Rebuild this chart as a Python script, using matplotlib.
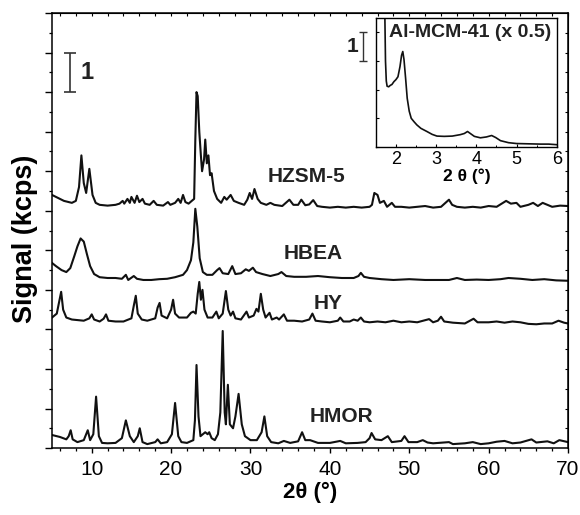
"""
XRD patterns of the zeolites (HZSM-5, HBEA, HY, HMOR) with a low-angle
inset for Al-MCM-41. Saves out.png.
"""
import numpy as np
import matplotlib
matplotlib.use("Agg")
import matplotlib.pyplot as plt

plt.rcParams["font.family"] = ["Liberation Sans", "DejaVu Sans"]

# ---- traced patterns (2theta in deg, signal in kcps, offsets included) ---- #
hzsm5_x = [5, 5.7, 6.5, 7.5, 8.0, 8.4, 8.7, 9.0, 9.3, 9.7, 10.1, 10.5, 11, 12,
           13, 13.5, 13.9, 14.1, 14.5, 14.8, 15.0, 15.4, 15.7, 16.0, 16.4,
           16.7, 17.3, 17.8, 18.2, 19, 19.6, 19.9, 20.5, 20.9, 21.2, 21.5,
           21.8, 22.2, 22.6, 22.9, 23.05, 23.2, 23.35, 23.55, 23.75, 23.9,
           24.15, 24.3, 24.5, 24.7, 24.9, 25.1, 25.4, 25.8, 26.3, 26.7, 27.0,
           27.5, 27.9, 28.5, 29.2, 29.6, 29.9, 30.2, 30.5, 30.9, 31.3, 32,
           32.5, 33, 34, 34.9, 35.4, 36.0, 36.4, 36.9, 37.4, 37.9, 38.4, 39,
           40, 41, 42, 43, 44, 45, 45.3, 45.6, 46.0, 46.3, 46.8, 47.2, 47.8,
           48.2, 49, 50, 51, 52, 53, 54, 55.0, 55.4, 56, 57, 58, 59, 60, 61,
           61.8, 62.2, 62.8, 63.5, 64, 65, 65.6, 66.2, 66.8, 67.4, 68, 69, 70]
hzsm5_y = [6.4, 6.33, 6.25, 6.2, 6.25, 6.6, 7.4, 6.7, 6.45, 7.06, 6.4, 6.2,
           6.15, 6.13, 6.15, 6.18, 6.25, 6.18, 6.3, 6.2, 6.35, 6.2, 6.38, 6.22,
           6.3, 6.18, 6.15, 6.25, 6.15, 6.13, 6.22, 6.15, 6.2, 6.3, 6.2, 6.4,
           6.22, 6.18, 6.25, 6.3, 7.8, 9.0, 8.9, 8.0, 7.4, 7.0, 7.3, 7.8, 7.2,
           7.4, 6.9, 6.95, 6.5, 6.3, 6.2, 6.35, 6.28, 6.4, 6.25, 6.2, 6.15,
           6.28, 6.45, 6.3, 6.55, 6.3, 6.2, 6.15, 6.2, 6.15, 6.12, 6.28, 6.15,
           6.15, 6.28, 6.14, 6.16, 6.27, 6.12, 6.1, 6.08, 6.1, 6.08, 6.1,
           6.08, 6.1, 6.15, 6.45, 6.4, 6.2, 6.25, 6.1, 6.2, 6.1, 6.1, 6.08,
           6.1, 6.12, 6.08, 6.1, 6.28, 6.15, 6.1, 6.08, 6.1, 6.08, 6.12, 6.1,
           6.2, 6.25, 6.18, 6.2, 6.1, 6.15, 6.2, 6.12, 6.2, 6.15, 6.1, 6.13,
           6.12]

hbea_x = [5, 5.5, 6.2, 6.8, 7.3, 7.8, 8.2, 8.6, 9.0, 9.4, 9.8, 10.3, 11, 12,
          13, 13.8, 14.3, 14.6, 15.3, 15.7, 16.5, 17.5, 18.5, 19.5, 20.5,
          21.5, 22.0, 22.5, 22.8, 23.05, 23.3, 23.6, 24.0, 24.5, 25.2, 25.8,
          26.1, 26.5, 27.2, 27.7, 28.1, 28.8, 29.4, 29.8, 30.3, 30.7, 31.5,
          32.5, 33.5, 33.9, 34.5, 35.5, 37, 38.5, 40, 41.5, 43.0, 43.6, 43.9,
          44.3, 45, 46.5, 48, 50, 52, 53.5, 55, 56, 57, 58.5, 60, 61.5, 62.5,
          64, 65.5, 67, 68.5, 70]
hbea_y = [4.68, 4.6, 4.5, 4.45, 4.55, 4.85, 5.1, 5.3, 5.22, 4.9, 4.6, 4.4,
          4.32, 4.3, 4.3, 4.28, 4.38, 4.25, 4.35, 4.28, 4.25, 4.25, 4.27,
          4.28, 4.32, 4.38, 4.5, 4.75, 5.2, 6.05, 5.6, 4.8, 4.45, 4.38, 4.38,
          4.5, 4.55, 4.42, 4.4, 4.6, 4.4, 4.42, 4.52, 4.48, 4.56, 4.45, 4.4,
          4.35, 4.4, 4.45, 4.35, 4.33, 4.33, 4.35, 4.32, 4.3, 4.3, 4.35, 4.43,
          4.33, 4.3, 4.27, 4.25, 4.27, 4.25, 4.25, 4.25, 4.3, 4.25, 4.26,
          4.25, 4.27, 4.3, 4.28, 4.25, 4.27, 4.24, 4.23]

hy_x = [5, 5.6, 5.9, 6.15, 6.4, 6.8, 7.5, 9, 9.7, 10, 10.3, 11, 11.5, 11.8,
        12.1, 13, 14, 15, 15.3, 15.55, 15.8, 16.3, 17, 18, 18.3, 18.55, 18.8,
        19.5, 20.0, 20.25, 20.5, 21, 22, 22.5, 22.8, 23.1, 23.35, 23.55,
        23.75, 23.95, 24.2, 24.6, 25.2, 25.7, 26.0, 26.5, 26.9, 27.2, 27.5,
        27.8, 28.1, 28.8, 29.5, 29.8, 30.4, 30.75, 31.0, 31.3, 31.6, 31.9,
        32.4, 32.7, 33.3, 33.6, 34.2, 34.6, 35.5, 36.5, 37.4, 37.8, 38.2, 39,
        40, 41, 41.3, 41.7, 42.5, 43, 43.5, 43.9, 44.3, 45, 46, 47, 48, 49,
        50, 51, 52.5, 53, 53.6, 54, 54.4, 55.5, 57, 58.1, 58.6, 60, 61, 62,
        63, 64, 65, 66, 67, 68, 68.8, 69.5, 70]
hy_y = [3.3, 3.4, 3.7, 3.95, 3.5, 3.3, 3.25, 3.22, 3.28, 3.38, 3.25, 3.2,
        3.27, 3.38, 3.22, 3.2, 3.2, 3.28, 3.6, 3.85, 3.4, 3.25, 3.22, 3.28,
        3.55, 3.67, 3.35, 3.28, 3.5, 3.75, 3.4, 3.3, 3.3, 3.42, 3.45, 3.4,
        3.9, 4.2, 3.75, 4.0, 3.5, 3.3, 3.3, 3.45, 3.28, 3.4, 3.97, 3.5, 3.35,
        3.45, 3.28, 3.25, 3.45, 3.3, 3.35, 3.52, 3.45, 3.9, 3.5, 3.3, 3.42,
        3.25, 3.3, 3.25, 3.38, 3.22, 3.22, 3.2, 3.25, 3.4, 3.22, 3.2, 3.18,
        3.22, 3.3, 3.2, 3.2, 3.25, 3.22, 3.3, 3.2, 3.18, 3.2, 3.18, 3.22,
        3.18, 3.2, 3.18, 3.26, 3.18, 3.22, 3.32, 3.2, 3.17, 3.15, 3.27, 3.18,
        3.18, 3.2, 3.17, 3.2, 3.18, 3.14, 3.13, 3.15, 3.15, 3.22, 3.17, 3.15]

hmor_x = [5, 6, 6.8, 7.1, 7.35, 7.6, 8.2, 9.0, 9.5, 9.8, 10.2, 10.55, 10.9,
          11.3, 12, 13, 13.8, 14.3, 14.8, 15.3, 15.8, 16.05, 16.4, 17, 18,
          18.3, 18.7, 19.5, 20.1, 20.5, 20.9, 21.3, 22, 22.8, 23.0, 23.2,
          23.45, 23.7, 24.0, 24.3, 24.6, 24.8, 25.1, 25.5, 25.9, 26.2, 26.5,
          26.75, 26.9, 27.15, 27.4, 27.8, 28.1, 28.5, 28.9, 29.3, 30, 30.8,
          31.4, 31.75, 32.1, 32.6, 33.5, 34.2, 35, 36, 36.5, 36.9, 37.5, 38.5,
          40, 41.3, 42, 43.5, 44.5, 45.0, 45.25, 45.7, 46.5, 47.3, 47.8, 49,
          49.4, 49.9, 51, 51.7, 52.3, 53, 55, 55.5, 57, 58, 59, 60, 61, 62,
          63, 64, 65.4, 66, 67.4, 68.2, 68.9, 70]
hmor_y = [0.33, 0.28, 0.22, 0.3, 0.45, 0.22, 0.15, 0.2, 0.45, 0.2, 0.35, 1.3,
          0.3, 0.13, 0.12, 0.13, 0.25, 0.7, 0.3, 0.15, 0.3, 0.5, 0.15, 0.1,
          0.15, 0.22, 0.12, 0.15, 0.35, 1.14, 0.3, 0.15, 0.13, 0.2, 0.7, 2.1,
          0.8, 0.3, 0.35, 0.4, 0.35, 0.4, 0.25, 0.2, 0.35, 0.9, 2.96, 0.9,
          0.6, 1.6, 0.6, 0.5, 0.8, 1.37, 0.6, 0.3, 0.2, 0.2, 0.4, 0.8, 0.3,
          0.15, 0.12, 0.18, 0.13, 0.17, 0.4, 0.2, 0.2, 0.13, 0.13, 0.18, 0.12,
          0.13, 0.15, 0.25, 0.38, 0.22, 0.2, 0.3, 0.15, 0.18, 0.3, 0.15, 0.15,
          0.2, 0.14, 0.12, 0.15, 0.1, 0.12, 0.15, 0.1, 0.12, 0.16, 0.18, 0.12,
          0.14, 0.22, 0.14, 0.17, 0.12, 0.2, 0.15]

mcm41_x = [1.72, 1.74, 1.76, 1.78, 1.82, 1.86, 1.9, 1.95, 2.0, 2.05, 2.1,
           2.14, 2.17, 2.2, 2.24, 2.28, 2.33, 2.38, 2.45, 2.52, 2.62, 2.77,
           2.9, 3.02, 3.2, 3.4, 3.6, 3.7, 3.78, 3.84, 3.95, 4.1, 4.25, 4.38,
           4.48, 4.6, 4.8, 5.0, 5.3, 5.6, 5.8, 6.0]
mcm41_y = [5.0, 3.0, 2.3, 2.12, 2.1, 2.15, 2.18, 2.28, 2.35, 2.45, 2.8, 3.2,
           3.33, 3.05, 2.4, 1.7, 1.25, 1.0, 0.88, 0.77, 0.65, 0.54, 0.44,
           0.38, 0.37, 0.38, 0.43, 0.47, 0.54, 0.48, 0.37, 0.32, 0.35, 0.4,
           0.33, 0.22, 0.15, 0.12, 0.11, 0.1, 0.1, 0.08]

patterns = [("HZSM-5", hzsm5_x, hzsm5_y, 32.1, 6.87),
            ("HBEA", hbea_x, hbea_y, 34.2, 4.92),
            ("HY", hy_x, hy_y, 38.0, 3.66),
            ("HMOR", hmor_x, hmor_y, 37.5, 0.80)]

SCALE_BAR = 1.0          # kcps
INSET_LABEL = "Al-MCM-41 (x 0.5)"

# ---- figure --------------------------------------------------------------- #
fig = plt.figure(figsize=(5.8, 5.15), dpi=100)
ax = fig.add_axes([0.0897, 0.130, 0.8897, 0.8447])

for name, xs, ys, lx, ly in patterns:
    ax.plot(xs, ys, color="#111111", lw=1.5)
    ax.text(lx, ly, name, fontsize=15, fontweight="bold", va="center",
            color="#222222")

ax.set_xlim(5, 70)
ax.set_ylim(0, 11)
ax.set_xticks(np.arange(10, 71, 10))
ax.set_xticks(np.arange(6, 70, 2), minor=True)
ax.set_yticks(np.arange(0, 11.1, 1))
ax.set_yticks(np.arange(0.5, 11, 1), minor=True)
ax.set_yticklabels([])
ax.tick_params(axis="x", which="major", direction="out", length=3.5,
               width=1.0, labelsize=15, pad=5)
ax.tick_params(axis="x", which="minor", direction="out", length=2.5, width=0.9)
ax.tick_params(axis="y", which="major", direction="out", length=5, width=1.0)
ax.tick_params(axis="y", which="minor", direction="out", length=2.5, width=0.9)
for s in ax.spines.values():
    s.set_linewidth(1.1)

# mirrored short inward ticks on top and right
top = ax.secondary_xaxis("top")
top.set_xticks(np.arange(6, 71, 2))
top.tick_params(direction="in", length=2, width=0.8, labeltop=False)
right = ax.secondary_yaxis("right")
right.set_yticks(np.arange(0.5, 11, 0.5))
right.tick_params(direction="in", length=2, width=0.8, labelright=False)

ax.set_xlabel("2θ (°)", fontsize=16, fontweight="bold", labelpad=2)
ax.set_ylabel("Signal (kcps)", fontsize=19.5, fontweight="bold")
ax.yaxis.set_label_coords(-0.028, 0.48)

# scale bar
ax.errorbar([7.3], [9.0 + SCALE_BAR / 2], yerr=SCALE_BAR / 2, color="#333333",
            lw=1.2, capsize=4.3, capthick=1.2)
ax.text(8.6, 9.5, "1", fontsize=17, fontweight="bold", va="center",
        color="#222222")

# ---- inset ---------------------------------------------------------------- #
ins = fig.add_axes([0.648, 0.7146, 0.312, 0.2505])
ins.plot(mcm41_x, mcm41_y, color="#111111", lw=1.2)
ins.set_xlim(1.5, 6)
ins.set_ylim(0, 4.5)
ins.set_xticks(np.arange(2, 6.1, 1))
ins.set_xticks(np.arange(1.5, 6, 0.5), minor=True)
ins.set_yticks(np.arange(0, 4.1, 1))
ins.set_yticklabels([])
ins.tick_params(which="major", direction="in", length=2.5, width=0.8,
                labelsize=13, pad=3)
ins.tick_params(which="minor", direction="in", length=1.8, width=0.7)
for s in ins.spines.values():
    s.set_linewidth(1.0)
ins.set_xlabel("2 θ (°)", fontsize=12.5, fontweight="bold", labelpad=0)
ins.text(0.97, 0.89, INSET_LABEL, transform=ins.transAxes, ha="right",
         va="center", fontsize=14, fontweight="bold", color="#222222")
ins.errorbar([1.18], [3.0 + SCALE_BAR / 2], yerr=SCALE_BAR / 2,
             color="#333333", lw=1.0, capsize=2.6, capthick=1.0,
             clip_on=False)
ins.text(0.92, 3.5, "1", fontsize=15, fontweight="bold", va="center",
         ha="center", color="#222222", clip_on=False)

fig.savefig("out.png", dpi=100)
